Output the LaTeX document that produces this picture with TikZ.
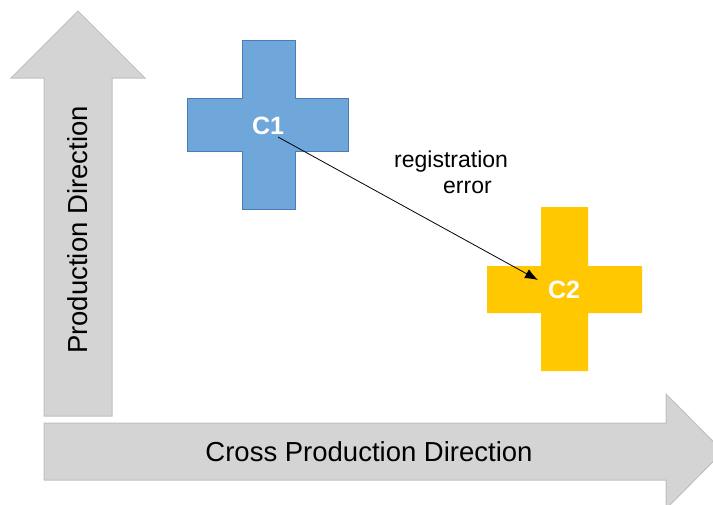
\documentclass[tikz,border=0pt]{standalone}
\usepackage{fontspec}
\setmainfont{Liberation Sans}
\usetikzlibrary{arrows.meta}
\definecolor{arrowgray}{RGB}{212,212,212}
\definecolor{edgegray}{RGB}{192,192,192}
\definecolor{crossblue}{RGB}{111,167,218}
\definecolor{edgeblue}{RGB}{74,125,181}
\definecolor{crossgold}{RGB}{255,200,0}
\begin{document}
\begin{tikzpicture}[x=1pt,y=-1pt,>={Latex[length=13pt,width=10pt]},
  bigarrow/.style={fill=arrowgray,draw=edgegray,line width=1pt},
  dirlabel/.style={font=\fontsize{27.5}{32}\selectfont},
  crosslabel/.style={text=white,font=\fontsize{25}{30}\selectfont\bfseries},
  errlabel/.style={font=\fontsize{23}{28}\selectfont,inner sep=0pt}]
\useasboundingbox (0,0) rectangle (713,504);
% direction arrows
\draw[bigarrow] (44,416) -- (44,78) -- (11,78) -- (78,11) -- (145,78) -- (112,78) -- (112,416) -- cycle;
\draw[bigarrow] (44,423) -- (666,423) -- (666,394) -- (723,451.5) -- (666,509) -- (666,480) -- (44,480) -- cycle;
\node[dirlabel,rotate=90] (prod) at (78,230) {Production Direction};
\node[dirlabel] (cross) at (369,452) {Cross Production Direction};
% crosses
\draw[fill=crossblue,draw=edgeblue,line width=1pt] (242,40) -- (295,40) -- (295,98) -- (348,98) -- (348,151) -- (295,151) -- (295,209) -- (242,209) -- (242,151) -- (187,151) -- (187,98) -- (242,98) -- cycle;
\fill[crossgold] (541,207) -- (588,207) -- (588,266) -- (642,266) -- (642,313) -- (588,313) -- (588,371) -- (541,371) -- (541,313) -- (487,313) -- (487,266) -- (541,266) -- cycle;
\node[crosslabel] (c1) at (268,126) {C1};
\node[crosslabel] (c2) at (564,290) {C2};
% registration error
\coordinate (c1err) at (278,137);
\coordinate (c2err) at (538,280);
\draw[->,line width=0.8pt] (c1err) -- (c2err);
\node[errlabel,anchor=base west] (reg) at (394,167) {registration};
\node[errlabel,anchor=base west] (err) at (443,193) {error};
\end{tikzpicture}
\end{document}
